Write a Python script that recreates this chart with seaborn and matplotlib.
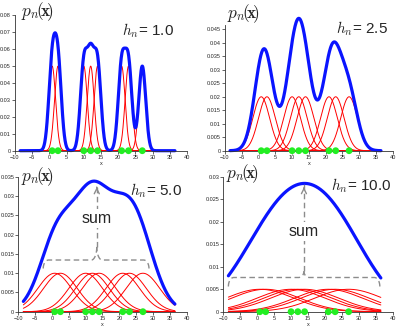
import numpy as np
import pandas as pd
import matplotlib
matplotlib.use("Agg")
import matplotlib.pyplot as plt
from matplotlib.ticker import MultipleLocator, FuncFormatter
import seaborn as sns

# sample points and window widths
samples = [0.8, 2.5, 10.0, 12.0, 14.0, 21.0, 23.0, 27.0]
widths = [1.0, 2.5, 5.0, 10.0]
width_labels = ["1.0", "2.5", "5.0", "10.0"]
y_tops = [0.08, 0.0465, 0.035, 0.03]
y_steps = [0.01, 0.005, 0.005, 0.005]

sns.set_style("white")
plt.rcParams["font.family"] = ["Liberation Sans", "DejaVu Sans"]
plt.rcParams["mathtext.fontset"] = "cm"

W, H = 404, 331
fig = plt.figure(figsize=(W / 100, H / 100), dpi=100)

# axes boxes in pixels: left, right, top, bottom
boxes = [
    (15.0, 187.0, 15.0, 150.7),
    (225.0, 392.7, 25.0, 150.7),
    (18.3, 186.7, 176.7, 311.7),
    (223.3, 392.7, 176.7, 311.7),
]
title_pos = [(21, 16), (227, 18.5), (21, 181.5), (226, 178.5)]
hlabel_pos = [(122, 35), (336, 33), (130, 195), (331, 190)]
# sum braces: x0, x1, xc, y_low, y_mid, y_tip, arrow top, text y
braces = {
    2: (-2.6, 28.8, 13.3, 0.0112, 0.0134, 0.0168, 0.0330, 0.0242),
    3: (-8.5, 36.2, 13.8, 0.0056, 0.0076, 0.0090, 0.0283, 0.0178),
}

xs = np.linspace(-8.5, 36.5, 600)
n = len(samples)


def px(x, y):
    return x / W, 1 - y / H


def draw_brace(ax, x0, x1, xc, ylo, ymid, ytip, ytop, ytext):
    r = 1.6
    t = np.linspace(0, np.pi / 2, 20)
    lx = x0 + r * (1 - np.cos(t))
    ly = ylo + (ymid - ylo) * np.sin(t)
    cx = xc - r + r * np.sin(t)
    cy = ymid + (ytip - ymid) * (1 - np.cos(t))
    rx = x1 - r * (1 - np.cos(t))
    left = np.column_stack([np.r_[lx, cx], np.r_[ly, cy]])
    right = np.column_stack([np.r_[rx, 2 * xc - cx], np.r_[ly, cy]])
    style = dict(color="#8c8c8c", lw=1.0, ls=(0, (4, 2.5)), clip_on=False)
    ax.plot(left[:, 0], left[:, 1], **style)
    ax.plot(right[:, 0], right[:, 1], **style)
    ax.plot([xc, xc], [ytip, ytop], **style)
    ax.annotate("", xy=(xc, ytop), xytext=(xc, ytop - 0.0015),
                arrowprops=dict(arrowstyle="->", color="#8c8c8c", lw=1.0,
                                mutation_scale=9))
    ax.text(xc, ytext, "sum", fontsize=11.5, ha="center", va="center",
            bbox=dict(facecolor="white", edgecolor="none", pad=1.5), zorder=5)


for i, h in enumerate(widths):
    l, r, t, b = boxes[i]
    ax = fig.add_axes([l / W, 1 - b / H, (r - l) / W, (b - t) / H])

    rows = []
    for j, s in enumerate(samples):
        k = np.exp(-0.5 * ((xs - s) / h) ** 2) / (n * h * np.sqrt(2 * np.pi))
        rows.append(pd.DataFrame({"x": xs, "k": k, "pt": j}))
    kern = pd.concat(rows, ignore_index=True)
    total = kern.groupby("x", as_index=False)["k"].sum()

    sns.lineplot(data=kern, x="x", y="k", units="pt", estimator=None,
                 color="red", lw=0.7, ax=ax, legend=False)
    sns.lineplot(data=total, x="x", y="k", color="#0a14ff", lw=2.3, ax=ax,
                 clip_on=False)
    pts = pd.DataFrame({"x": samples, "y": np.zeros(n)})
    sns.scatterplot(data=pts, x="x", y="y", color="#22ee22", s=24,
                    edgecolor="none", ax=ax, zorder=6, clip_on=False)

    if i in braces:
        draw_brace(ax, *braces[i])

    ax.set_xlim(-10, 40)
    ax.set_ylim(0, y_tops[i])
    ax.xaxis.set_major_locator(MultipleLocator(5))
    ax.yaxis.set_major_locator(MultipleLocator(y_steps[i]))
    ax.yaxis.set_major_formatter(FuncFormatter(lambda v, p: f"{v:g}"))
    ax.tick_params(axis="both", labelsize=4, length=2, width=0.5, pad=1,
                   direction="out", bottom=True, left=True)
    ax.set_xlabel("x", fontsize=4, labelpad=1)
    ax.set_ylabel("")
    for side in ("top", "right"):
        ax.spines[side].set_visible(False)
    for side in ("left", "bottom"):
        ax.spines[side].set_linewidth(0.6)
        ax.spines[side].set_color("#333333")

    tx, ty = px(*title_pos[i])
    fig.text(tx, ty, r"$p_n\!(\!\mathbf{x}\!)$", fontsize=12.5, va="baseline")
    hx, hy = px(*hlabel_pos[i])
    fig.text(hx, hy, r"$h_n$= " + width_labels[i], fontsize=11, va="baseline")

fig.savefig("out.png", dpi=100)
